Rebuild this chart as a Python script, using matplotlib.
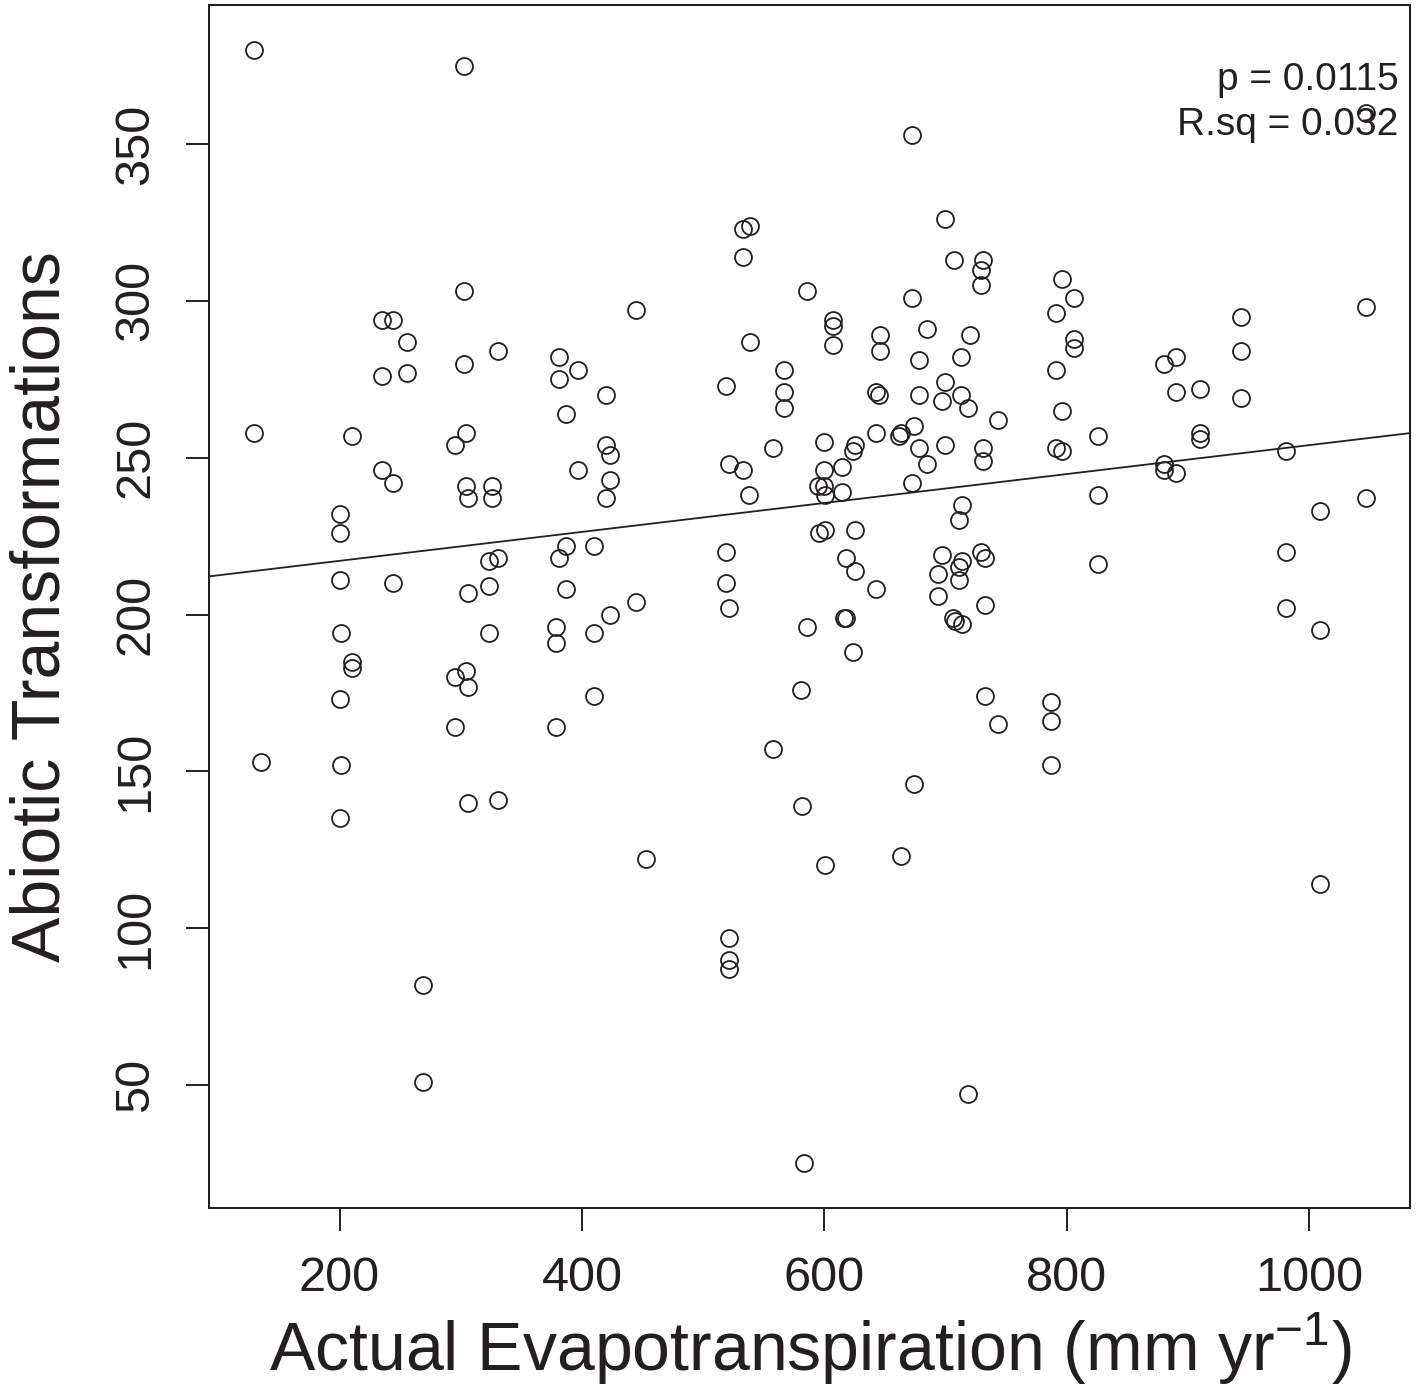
import numpy as np
import matplotlib
matplotlib.use("Agg")
import matplotlib.pyplot as plt

# actual evapotranspiration (mm/yr) vs abiotic transformations
aet = [129, 129, 135,
       200, 200, 200, 201, 200, 201, 200,
       210, 210, 210,
       235, 244, 235, 235, 244, 244,
       256, 256,
       269, 269,
       303, 303, 303, 304, 295, 304, 306, 306, 304, 295, 306, 295, 306,
       323, 331, 323, 323, 326, 326, 331, 331,
       379, 379, 379, 381, 381, 381, 387, 387, 387, 397, 397,
       410, 410, 410, 420, 420, 423, 423, 420, 423,
       445, 445, 453,
       519, 521, 519, 519, 521, 521, 521, 521,
       533, 539, 533, 539, 533, 538,
       558, 558,
       567, 567, 567,
       586, 586, 581, 582, 583,
       600, 600, 595, 600, 601, 601, 596, 601,
       607, 607, 607,
       615, 615, 618, 616, 618,
       625, 624, 625, 625, 624,
       643, 645, 646, 646, 643, 643,
       663, 662, 663,
       672, 672, 674, 672, 674,
       678, 678, 678, 685, 685,
       694, 694, 697, 697,
       700, 700, 700,
       707, 706, 708,
       713, 713, 719, 711, 714, 714, 711, 711, 714, 720, 719,
       729, 729, 731, 731, 731, 729, 733, 733, 733,
       743, 743,
       787, 787, 787,
       791, 791, 791, 796, 796, 796,
       806, 806, 806,
       826, 826, 826,
       880, 880, 880, 890, 890, 890,
       910, 910, 910,
       944, 944, 944,
       981, 981, 981,
       1009, 1009, 1009,
       1047, 1047, 1047]

abiotic = [380, 258, 153,
           232, 226, 211, 194, 173, 152, 135,
           257, 185, 183,
           294, 294, 276, 246, 242, 210,
           287, 277,
           82, 51,
           375, 303, 280, 258, 254, 241, 237, 207, 182, 180, 177, 164, 140,
           217, 218, 209, 194, 241, 237, 284, 141,
           196, 191, 164, 282, 275, 218, 264, 222, 208, 278, 246,
           222, 194, 174, 270, 254, 251, 243, 237, 200,
           297, 204, 122,
           273, 248, 220, 210, 202, 97, 90, 87,
           323, 324, 314, 287, 246, 238,
           253, 157,
           278, 271, 266,
           303, 196, 176, 139, 25,
           255, 246, 241, 241, 238, 227, 226, 120,
           294, 292, 286,
           247, 239, 218, 199, 199,
           254, 252, 227, 214, 188,
           271, 270, 289, 284, 258, 208,
           258, 257, 123,
           353, 301, 260, 242, 146,
           281, 270, 253, 291, 248,
           213, 206, 268, 219,
           326, 274, 254,
           313, 199, 198,
           282, 270, 266, 230, 235, 217, 215, 211, 197, 289, 47,
           310, 305, 313, 253, 249, 220, 218, 203, 174,
           262, 165,
           172, 166, 152,
           296, 278, 253, 307, 265, 252,
           301, 288, 285,
           257, 238, 216,
           280, 248, 246, 282, 271, 245,
           272, 258, 256,
           295, 284, 269,
           252, 220, 202,
           233, 195, 114,
           360, 298, 237]

# fitted line as drawn in the figure
fit_intercept = 207.9
fit_slope = 0.0461
p_text = "p = 0.0115"
r2_text = "R.sq = 0.032"

ink = "#231f20"
plt.rcParams["font.family"] = ["Liberation Sans", "DejaVu Sans"]
plt.rcParams["mathtext.fontset"] = "custom"
plt.rcParams["mathtext.rm"] = "Liberation Sans"

fig = plt.figure(figsize=(14.16, 13.91), dpi=100)
ax = fig.add_axes([0.1476, 0.1316, 0.8485, 0.8645])

ax.plot(aet, abiotic, linestyle="none", marker="o", markersize=12.2,
        markerfacecolor="none", markeredgecolor=ink, markeredgewidth=1.3)
ax.axline((0, fit_intercept), slope=fit_slope, color=ink, linewidth=1.3)

# R style 4% padding
xr = max(aet) - min(aet)
yr = max(abiotic) - min(abiotic)
ax.set_xlim(min(aet) - 0.04 * xr, max(aet) + 0.04 * xr)
ax.set_ylim(min(abiotic) - 0.04 * yr, max(abiotic) + 0.04 * yr)

ax.set_xticks([200, 400, 600, 800, 1000])
ax.set_yticks([50, 100, 150, 200, 250, 300, 350])
ax.set_yticklabels(["50", "100", "150", "200", "250", "300", "350"],
                   rotation=90, va="center")
ax.tick_params(axis="both", length=16.6, width=1.4, color=ink,
               labelsize=35, labelcolor=ink)
ax.tick_params(axis="x", pad=18)
ax.tick_params(axis="y", pad=20)
for s in ax.spines.values():
    s.set_linewidth(1.45)
    s.set_color(ink)

ax.set_xlabel("Actual Evapotranspiration (mm yr$^{\\mathregular{-1}}$)",
              fontsize=49, color=ink)
ax.xaxis.label.set_va("baseline")
ax.xaxis.set_label_coords(0.5, -0.1363)
ax.set_ylabel("Abiotic Transformations", fontsize=49, color=ink)
ax.yaxis.label.set_rotation_mode("anchor")
ax.yaxis.label.set_va("baseline")
ax.yaxis.set_label_coords(-0.1244, 0.5)

ax.text(0.990, 0.930, p_text, transform=ax.transAxes, ha="right",
        va="baseline", fontsize=28, color=ink)
ax.text(0.990, 0.8925, r2_text, transform=ax.transAxes, ha="right",
        va="baseline", fontsize=28, color=ink)

fig.savefig("out.png", dpi=100)
